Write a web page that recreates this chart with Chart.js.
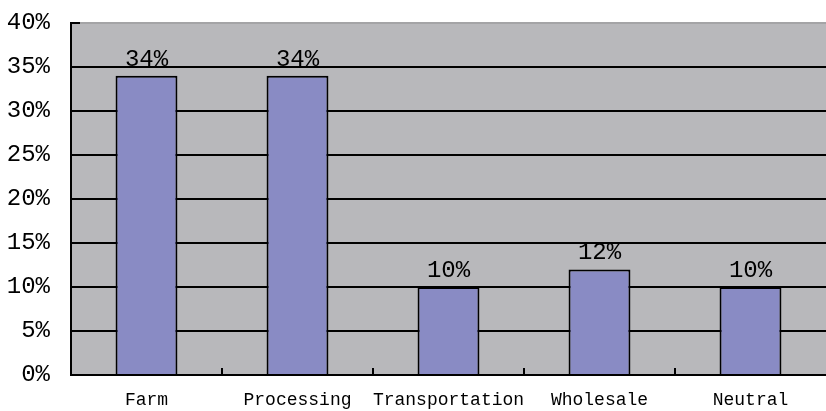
<!DOCTYPE html>
<html>
<head>
<meta charset="utf-8">
<script src="https://cdn.jsdelivr.net/npm/chart.js@4.4.0/dist/chart.umd.min.js"></script>
<style>
  html, body { margin: 0; padding: 0; background: #fff; }
  #wrap { width: 826px; height: 411px; }
</style>
</head>
<body>
<div id="wrap"><canvas id="chart1"></canvas></div>
<script>
  // data
  var categories = ["Farm", "Processing", "Transportation", "Wholesale", "Neutral"];
  var shares = [34, 34, 10, 12, 10];
  var valueLabels = ["34%", "34%", "10%", "12%", "10%"];

  // plot background + inward ticks
  var plotBackground = {
    id: "plotBackground",
    beforeDraw: function (chart) {
      var a = chart.chartArea;
      var ctx = chart.ctx;
      ctx.save();
      ctx.fillStyle = "#b8b8bb";
      ctx.fillRect(a.left, a.top, a.right - a.left, a.bottom - a.top);
      ctx.restore();
    },
    afterDraw: function (chart) {
      var ctx = chart.ctx;
      var x = chart.scales.x;
      var y = chart.scales.y;
      var a = chart.chartArea;
      ctx.save();
      ctx.strokeStyle = "#000";
      ctx.lineWidth = 2;
      for (var i = 0; i < categories.length - 1; i++) {
        var px = Math.round((x.getPixelForValue(i) + x.getPixelForValue(i + 1)) / 2);
        ctx.beginPath();
        ctx.moveTo(px, a.bottom);
        ctx.lineTo(px, a.bottom - 7);
        ctx.stroke();
      }
      var py = y.getPixelForValue(40);
      ctx.beginPath();
      ctx.moveTo(a.left, py);
      ctx.lineTo(a.left + 9, py);
      ctx.stroke();
      ctx.restore();
    },
  };

  // value labels above bars
  var barLabels = {
    id: "barLabels",
    afterDatasetsDraw: function (chart) {
      var ctx = chart.ctx;
      var meta = chart.getDatasetMeta(0);
      ctx.save();
      ctx.font = "24px 'Liberation Mono'";
      ctx.fillStyle = "#000";
      ctx.textAlign = "center";
      ctx.textBaseline = "alphabetic";
      meta.data.forEach(function (bar, i) {
        ctx.fillText(valueLabels[i], bar.x, bar.y - 10);
      });
      ctx.restore();
    },
  };

  var ctx = document.getElementById("chart1").getContext("2d");
  var myChart = new Chart(ctx, {
    type: "bar",
    data: {
      labels: categories,
      datasets: [
        {
          data: shares,
          backgroundColor: "#898bc4",
          borderColor: "#000",
          borderWidth: 2,
          barPercentage: 0.41,
          categoryPercentage: 1,
        },
      ],
    },
    options: {
      responsive: true,
      maintainAspectRatio: false,
      animation: false,
      layout: {
        padding: { top: 23, right: 0, left: 7, bottom: 0 },
      },
      plugins: {
        legend: { display: false },
        tooltip: { enabled: false },
      },
      scales: {
        x: {
          grid: { display: false, drawTicks: false },
          border: { display: true, color: "#000", width: 2 },
          afterFit: function (s) {
            s.height = 36;
            s.paddingLeft = 0;
            s.paddingRight = 0;
          },
          ticks: {
            color: "#000",
            padding: 14,
            maxRotation: 0,
            minRotation: 0,
            autoSkip: false,
            font: { family: "'Liberation Mono'", size: 18 },
          },
        },
        y: {
          min: 0,
          max: 40,
          afterFit: function (s) {
            s.width = 64;
            s.paddingTop = 0;
            s.paddingBottom = 0;
          },
          ticks: {
            stepSize: 5,
            color: "#000",
            padding: 21,
            font: { family: "'Liberation Mono'", size: 24 },
            callback: function (v) {
              return v + "%";
            },
          },
          grid: {
            drawTicks: false,
            lineWidth: 2,
            color: function (c) {
              return c.tick && c.tick.value === 40 ? "#a4a4a6" : "#000";
            },
          },
          border: { display: true, color: "#000", width: 2 },
        },
      },
    },
    plugins: [plotBackground, barLabels],
  });
</script>
</body>
</html>
